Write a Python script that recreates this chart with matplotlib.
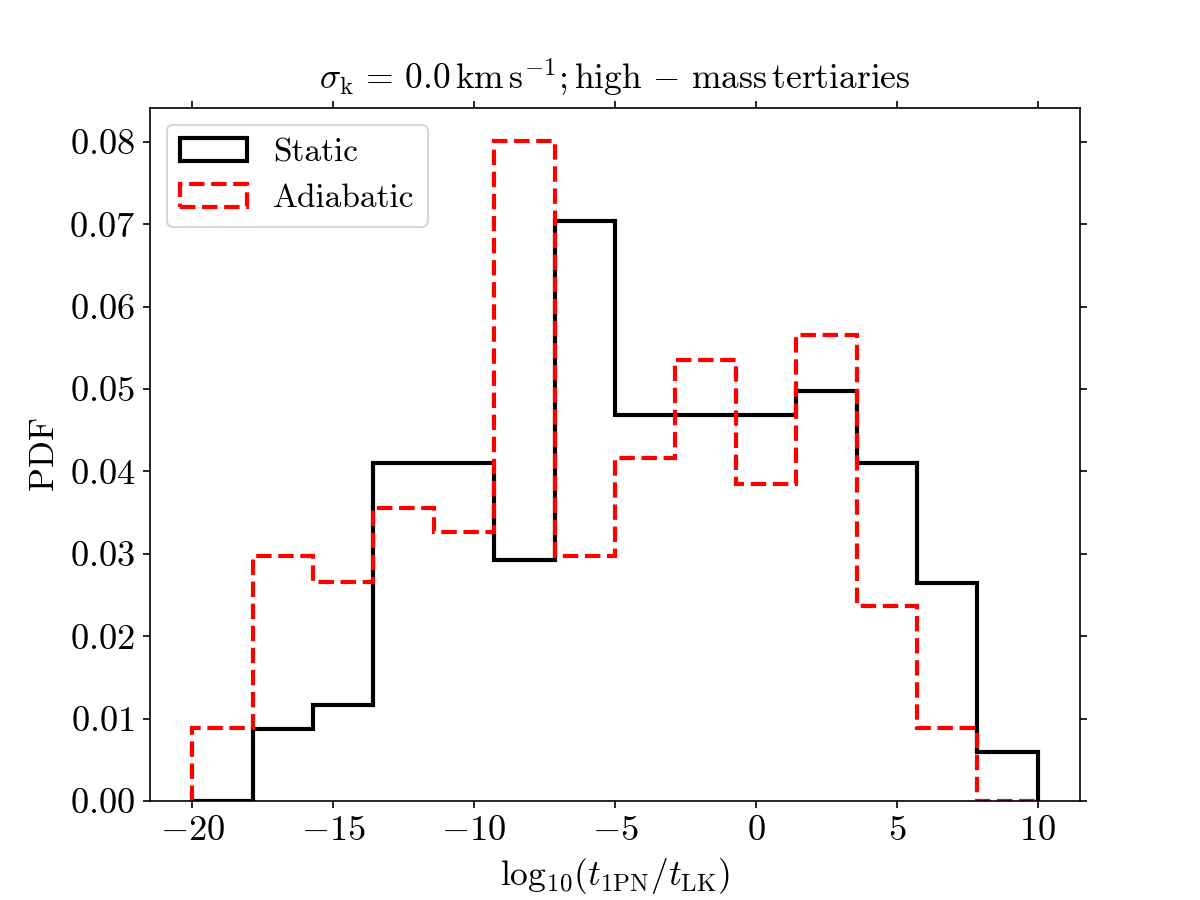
import numpy as np
import matplotlib
matplotlib.use('Agg')
import matplotlib.pyplot as plt

plt.rcParams['mathtext.fontset'] = 'cm'
plt.rcParams['font.family'] = 'serif'
plt.rcParams['font.serif'] = ['cmr10', 'DejaVu Serif']
plt.rcParams['axes.formatter.use_mathtext'] = True
plt.rcParams['font.size'] = 16

# 14 bins between -20 and 10
bin_edges = np.linspace(-20, 10, 15)

# PDF values
static_pdf = [0.0, 0.00875, 0.0117, 0.0410, 0.0410, 0.0293, 0.0704,
              0.0469, 0.0469, 0.0469, 0.0498, 0.0410, 0.0264, 0.0059]
adiabatic_pdf = [0.0089, 0.0297, 0.0266, 0.0356, 0.0327, 0.0801, 0.0297,
                 0.0416, 0.0535, 0.0385, 0.0565, 0.0237, 0.0089, 0.0]

centers = 0.5 * (bin_edges[:-1] + bin_edges[1:])

fig, ax = plt.subplots(figsize=(8, 6), dpi=150)

ax.hist(centers, bins=bin_edges, weights=static_pdf, histtype='step',
        color='black', lw=2, label='Static')
ax.hist(centers, bins=bin_edges, weights=adiabatic_pdf, histtype='step',
        color='red', lw=2, ls='--', label='Adiabatic')

ax.set_xlabel(r'$\mathrm{log}_{10}(t_{\mathrm{1PN}}/t_{\mathrm{LK}})$', fontsize=17)
ax.set_ylabel(r'$\mathrm{PDF}$', fontsize=17)
ax.set_title(r'$\sigma_{\mathrm{k}} \,=\, 0.0\,\mathrm{km\,s^{-1}}; \mathrm{high\,-\,mass\,tertiaries}$',
             fontsize=17, pad=8.5)
ax.tick_params(top=True, right=True, direction='out', labelsize=17.5)
ax.set_ylim(0, None)
ax.legend(loc='upper left', fontsize=16)

fig.savefig('out.png', dpi=150)
